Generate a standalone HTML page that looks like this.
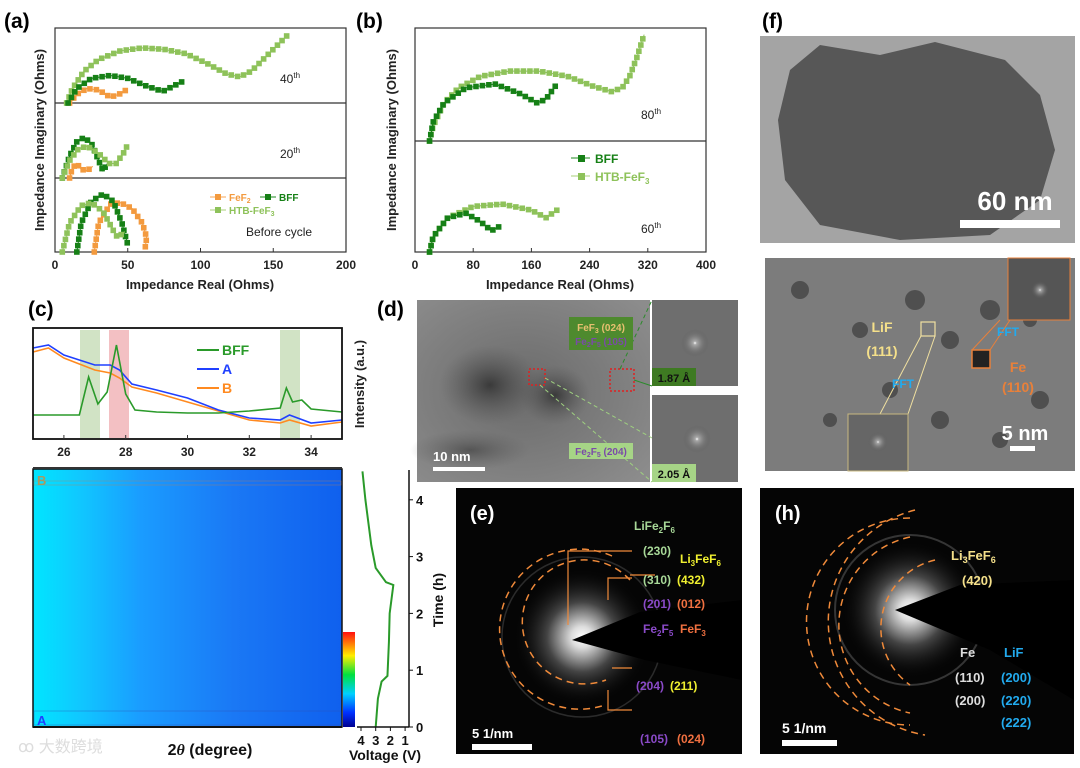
<!DOCTYPE html>
<html><head><meta charset="utf-8">
<style>
html,body{margin:0;padding:0;background:#fff;}
body{width:1080px;height:768px;overflow:hidden;position:relative;font-family:"Liberation Sans",Arial,sans-serif;}
svg{position:absolute;left:0;top:0;}
text{font-family:"Liberation Sans",Arial,sans-serif;}
</style></head>
<body>
<svg id="fig" width="1080" height="768" viewBox="0 0 1080 768" xmlns="http://www.w3.org/2000/svg">
<defs>
  <linearGradient id="heat" x1="0" x2="1" y1="0" y2="0">
    <stop offset="0" stop-color="#00e6ff"/><stop offset="0.15" stop-color="#10c8ff"/>
    <stop offset="0.35" stop-color="#1a9cff"/><stop offset="0.65" stop-color="#1a78f5"/>
    <stop offset="1" stop-color="#0f60ee"/>
  </linearGradient>
  <linearGradient id="cbar" x1="0" x2="0" y1="1" y2="0">
    <stop offset="0" stop-color="#000090"/><stop offset="0.15" stop-color="#0030ff"/>
    <stop offset="0.35" stop-color="#00d0ff"/><stop offset="0.55" stop-color="#00e040"/>
    <stop offset="0.75" stop-color="#ffee00"/><stop offset="1" stop-color="#ff1010"/>
  </linearGradient>
  <radialGradient id="tem" cx="0.45" cy="0.5" r="0.7">
    <stop offset="0" stop-color="#6a6a6a"/><stop offset="1" stop-color="#8c8c8c"/>
  </radialGradient>
  <radialGradient id="blob" cx="0.5" cy="0.5" r="0.5">
    <stop offset="0" stop-color="#3a3a3a"/><stop offset="1" stop-color="#5a5a5a" stop-opacity="0"/>
  </radialGradient>
  <radialGradient id="glow" cx="0.5" cy="0.5" r="0.5">
    <stop offset="0" stop-color="#fff"/><stop offset="0.15" stop-color="#ddd"/>
    <stop offset="0.5" stop-color="#444"/><stop offset="1" stop-color="#000" stop-opacity="0"/>
  </radialGradient>
  <radialGradient id="fftg" cx="0.5" cy="0.5" r="0.5">
    <stop offset="0" stop-color="#fff"/><stop offset="0.12" stop-color="#aaa"/><stop offset="1" stop-color="#555" stop-opacity="0"/>
  </radialGradient>
</defs>

<g font-weight="bold" font-size="21" fill="#000">
<text x="4" y="28">(a)</text><text x="356" y="28">(b)</text><text x="762" y="28">(f)</text>
<text x="28" y="316">(c)</text><text x="377" y="316">(d)</text><text x="765" y="290">(g)</text>
</g>

<g>
<rect x="55" y="28" width="291" height="224" fill="none" stroke="#333" stroke-width="1.2"/>
<line x1="55" y1="103" x2="346" y2="103" stroke="#333" stroke-width="1.2"/>
<line x1="55" y1="178" x2="346" y2="178" stroke="#333" stroke-width="1.2"/>
<g id="a-ticks"></g>
<text x="200" y="289" font-size="13" font-weight="bold" text-anchor="middle" fill="#222">Impedance Real (Ohms)</text>
<text transform="translate(44,140) rotate(-90)" font-size="13" font-weight="bold" text-anchor="middle" fill="#222">Impedance Imaginary (Ohms)</text>
<text x="280" y="83" font-size="12" fill="#222">40<tspan font-size="8" dy="-5">th</tspan></text>
<text x="280" y="158" font-size="12" fill="#222">20<tspan font-size="8" dy="-5">th</tspan></text>
<text x="246" y="236" font-size="12" fill="#222">Before cycle</text>
<g font-size="10" font-weight="bold">
<line x1="210" y1="197" x2="226" y2="197" stroke="#f7a555"/><rect x="215" y="194" width="6" height="6" fill="#f39a3e"/><text x="229" y="201" fill="#f39a3e">FeF<tspan font-size="7" dy="2">2</tspan></text>
<line x1="260" y1="197" x2="276" y2="197" stroke="#1f8a1f"/><rect x="265" y="194" width="6" height="6" fill="#168016"/><text x="279" y="201" fill="#168016">BFF</text>
<line x1="210" y1="210" x2="226" y2="210" stroke="#a8cf7a"/><rect x="215" y="207" width="6" height="6" fill="#8ec25a"/><text x="229" y="214" fill="#8ec25a">HTB-FeF<tspan font-size="7" dy="2">3</tspan></text>
</g>
</g>

<g>
<rect x="415" y="28" width="291" height="224" fill="none" stroke="#333" stroke-width="1.2"/>
<line x1="415" y1="141" x2="706" y2="141" stroke="#333" stroke-width="1.2"/>
<g id="b-ticks"></g>
<text x="560" y="289" font-size="13" font-weight="bold" text-anchor="middle" fill="#222">Impedance Real (Ohms)</text>
<text transform="translate(396,140) rotate(-90)" font-size="13" font-weight="bold" text-anchor="middle" fill="#222">Impedance Imaginary (Ohms)</text>
<text x="641" y="119" font-size="12" fill="#222">80<tspan font-size="8" dy="-5">th</tspan></text>
<text x="641" y="233" font-size="12" fill="#222">60<tspan font-size="8" dy="-5">th</tspan></text>
<g font-size="12" font-weight="bold">
<line x1="571" y1="158" x2="590" y2="158" stroke="#1f8a1f"/><rect x="578" y="155" width="7" height="7" fill="#168016"/><text x="595" y="163" fill="#168016">BFF</text>
<line x1="571" y1="176" x2="590" y2="176" stroke="#a8cf7a"/><rect x="578" y="173" width="7" height="7" fill="#8ec25a"/><text x="595" y="181" fill="#8ec25a">HTB-FeF<tspan font-size="8" dy="3">3</tspan></text>
</g>
</g>
<g id="nyq"></g>

<g>
<rect x="80" y="330" width="20" height="108" fill="#c5dcb6" opacity="0.8"/>
<rect x="109" y="330" width="20" height="108" fill="#f2b9bd" opacity="0.9"/>
<rect x="280" y="330" width="20" height="108" fill="#c5dcb6" opacity="0.8"/>
<g id="xrd"></g>
<rect x="33" y="328" width="309" height="111" fill="none" stroke="#111" stroke-width="1.8"/>
<g id="c-ticks"></g>
<g font-size="14" font-weight="bold">
<line x1="197" y1="350" x2="219" y2="350" stroke="#2a9a2a" stroke-width="2"/><text x="222" y="355" fill="#2a9a2a">BFF</text>
<line x1="197" y1="369" x2="219" y2="369" stroke="#2040ff" stroke-width="2"/><text x="222" y="374" fill="#2040ff">A</text>
<line x1="197" y1="388" x2="219" y2="388" stroke="#ff8a20" stroke-width="2"/><text x="222" y="393" fill="#ff8a20">B</text>
</g>
<text transform="translate(364,384) rotate(-90)" font-size="13" font-weight="bold" text-anchor="middle" fill="#222">Intensity (a.u.)</text>
<rect x="33" y="469" width="309" height="258" fill="url(#heat)"/>
<rect x="33" y="469" width="309" height="258" fill="none" stroke="#111" stroke-width="1.5"/>
<line x1="33" y1="727" x2="342" y2="727" stroke="#111" stroke-width="2"/>
<line x1="33" y1="468" x2="342" y2="468" stroke="#333" stroke-width="2"/>
<rect x="34" y="481" width="307" height="4" fill="none" stroke="#c08050" stroke-width="0.5" opacity="0.7"/>
<rect x="34" y="711" width="307" height="14" fill="none" stroke="#3050b0" stroke-width="0.6" opacity="0.6"/>
<text x="37" y="485" font-size="13" font-weight="bold" fill="#d08a3a" opacity="0.8">B</text>
<text x="37" y="725" font-size="13" font-weight="bold" fill="#2040ff">A</text>
<rect x="343" y="632" width="12" height="95" fill="url(#cbar)"/>
<text x="210" y="755" font-size="16" font-weight="bold" text-anchor="middle" fill="#111">2<tspan font-style="italic" font-family="Liberation Serif">θ</tspan> (degree)</text>
<text x="18" y="752" font-size="16" fill="#ddd" font-family="'Liberation Sans','Noto Sans CJK SC',sans-serif">ꝏ 大数跨境</text>
<g id="volt"></g>
<text transform="translate(443,600) rotate(-90)" font-size="14" font-weight="bold" text-anchor="middle" fill="#111">Time (h)</text>
<text x="385" y="760" font-size="14" font-weight="bold" text-anchor="middle" fill="#111">Voltage (V)</text>
</g>

<g>
<rect x="417" y="300" width="233" height="182" fill="url(#tem)"/>
<ellipse cx="490" cy="385" rx="50" ry="40" fill="url(#blob)"/>
<ellipse cx="555" cy="395" rx="35" ry="30" fill="url(#blob)"/>
<ellipse cx="470" cy="450" rx="60" ry="20" fill="url(#blob)" opacity="0.6"/>
<rect x="529" y="369" width="16" height="16" fill="none" stroke="#e02020" stroke-dasharray="2,2" stroke-width="1.5"/>
<rect x="610" y="369" width="24" height="22" fill="none" stroke="#e02020" stroke-dasharray="2,2" stroke-width="1.5"/>
<line x1="545" y1="378" x2="652" y2="438" stroke="#9fd080" stroke-dasharray="4,3"/>
<line x1="540" y1="385" x2="652" y2="482" stroke="#9fd080" stroke-dasharray="4,3"/>
<line x1="620" y1="369" x2="652" y2="300" stroke="#2a8a2a" stroke-dasharray="4,3"/>
<line x1="634" y1="380" x2="652" y2="386" stroke="#2a8a2a"/>
<rect x="569" y="317" width="64" height="33" fill="#4e8a2e"/>
<text x="601" y="331" font-size="10" font-weight="bold" fill="#e8c070" text-anchor="middle">FeF<tspan font-size="7" dy="2">3</tspan><tspan dy="-2"> (024)</tspan></text>
<text x="601" y="345" font-size="10" font-weight="bold" fill="#7a4aa8" text-anchor="middle">Fe<tspan font-size="7" dy="2">2</tspan><tspan dy="-2">F</tspan><tspan font-size="7" dy="2">5</tspan><tspan dy="-2"> (105)</tspan></text>
<rect x="569" y="443" width="64" height="16" fill="#a6d486"/>
<text x="601" y="455" font-size="10" font-weight="bold" fill="#7a4aa8" text-anchor="middle">Fe<tspan font-size="7" dy="2">2</tspan><tspan dy="-2">F</tspan><tspan font-size="7" dy="2">5</tspan><tspan dy="-2"> (204)</tspan></text>
<rect x="433" y="467" width="52" height="4" fill="#fff"/>
<text x="433" y="461" font-size="13" font-weight="bold" fill="#fff">10 nm</text>
<rect x="652" y="300" width="86" height="86" fill="#6e6e6e"/>
<circle cx="695" cy="343" r="14" fill="url(#fftg)"/>
<rect x="652" y="368" width="44" height="18" fill="#3e7a22"/><text x="674" y="382" font-size="11" font-weight="bold" fill="#111" text-anchor="middle">1.87 Å</text>
<rect x="652" y="395" width="86" height="87" fill="#6e6e6e"/>
<circle cx="697" cy="439" r="14" fill="url(#fftg)"/>
<rect x="652" y="464" width="44" height="18" fill="#a6d486"/><text x="674" y="478" font-size="11" font-weight="bold" fill="#111" text-anchor="middle">2.05 Å</text>
</g>

<g>
<rect x="760" y="36" width="315" height="207" fill="#a4a4a4"/>
<path d="M790,70 L820,45 L880,55 L935,42 L1005,60 L1040,95 L1055,150 L1040,200 L990,235 L900,240 L820,225 L785,180 L778,120 Z" fill="#575757"/>
<text x="1015" y="210" font-size="26" font-weight="bold" fill="#fff" text-anchor="middle">60 nm</text>
<rect x="960" y="220" width="100" height="8" fill="#fff"/>
</g>

<g>
<rect x="765" y="258" width="310" height="213" fill="#7c7c7c"/>
<g fill="#3c3c3c" opacity="0.7">
<circle cx="800" cy="290" r="9"/><circle cx="860" cy="330" r="8"/><circle cx="915" cy="300" r="10"/><circle cx="950" cy="340" r="9"/><circle cx="990" cy="310" r="10"/><circle cx="890" cy="390" r="8"/><circle cx="940" cy="420" r="9"/><circle cx="1000" cy="440" r="8"/><circle cx="830" cy="420" r="7"/><circle cx="1040" cy="400" r="9"/><circle cx="1030" cy="320" r="7"/>
</g>
<rect x="921" y="322" width="14" height="14" fill="none" stroke="#f0e0a0" stroke-width="1.2"/>
<line x1="921" y1="336" x2="880" y2="414" stroke="#f0e0a0"/><line x1="935" y1="336" x2="908" y2="414" stroke="#f0e0a0"/>
<rect x="848" y="414" width="60" height="57" fill="#666" stroke="#c8b880"/>
<circle cx="878" cy="442" r="10" fill="url(#fftg)"/>
<rect x="972" y="350" width="18" height="18" fill="#222" stroke="#e8803a" stroke-width="1.5"/>
<line x1="990" y1="350" x2="1010" y2="320" stroke="#e8803a"/><line x1="972" y1="350" x2="1000" y2="320" stroke="#e8803a"/>
<rect x="1008" y="258" width="62" height="62" fill="#555" stroke="#e8803a"/>
<circle cx="1040" cy="290" r="9" fill="url(#fftg)"/>
<text x="882" y="332" font-size="14" font-weight="bold" fill="#f5e08a" text-anchor="middle">LiF</text>
<text x="882" y="356" font-size="14" font-weight="bold" fill="#f5e08a" text-anchor="middle">(111)</text>
<text x="903" y="388" font-size="12" font-weight="bold" fill="#22aaee" text-anchor="middle">FFT</text>
<text x="1008" y="336" font-size="12" font-weight="bold" fill="#22aaee" text-anchor="middle">FFT</text>
<text x="1018" y="372" font-size="14" font-weight="bold" fill="#e8803a" text-anchor="middle">Fe</text>
<text x="1018" y="392" font-size="14" font-weight="bold" fill="#e8803a" text-anchor="middle">(110)</text>
<text x="1025" y="440" font-size="20" font-weight="bold" fill="#fff" text-anchor="middle">5 nm</text>
<rect x="1010" y="446" width="25" height="5" fill="#fff"/>
</g>

<g>
<rect x="456" y="488" width="286" height="266" fill="#050505"/>
<circle cx="582" cy="637" r="70" fill="url(#glow)"/>
<circle cx="582" cy="637" r="80" fill="none" stroke="#444" stroke-width="1.5" opacity="0.6"/>
<path d="M572,640 L640,612 L742,600 L742,680 L645,660 Z" fill="#000"/>
<text x="470" y="520" font-size="20" font-weight="bold" fill="#fff">(e)</text>
<g fill="none" stroke="#f08a3a" stroke-width="1.5" stroke-dasharray="7,5">
<path d="M630,580 A62,62 0 1,0 606,680"/>
<path d="M612,556 A80,80 0 1,0 605,705"/>
</g>
<g stroke="#f08a3a" stroke-width="1.2" fill="none">
<path d="M632,551 L568,551 L568,625"/><path d="M630,575 L655,575"/>
<path d="M632,578 L608,578 L608,600"/><path d="M612,668 L632,668"/>
<path d="M632,710 L608,710 L608,690"/>
</g>
<g font-size="12" font-weight="bold">
<text x="634" y="530" fill="#a8d898">LiFe<tspan font-size="8" dy="3">2</tspan><tspan dy="-3">F</tspan><tspan font-size="8" dy="3">6</tspan></text>
<text x="643" y="555" fill="#a8d898">(230)</text>
<text x="680" y="563" fill="#f0f030">Li<tspan font-size="8" dy="3">3</tspan><tspan dy="-3">FeF</tspan><tspan font-size="8" dy="3">6</tspan></text>
<text x="643" y="584" fill="#a8d898">(310)</text><text x="677" y="584" fill="#f0f030">(432)</text>
<text x="643" y="608" fill="#8a4ac8">(201)</text><text x="677" y="608" fill="#f07040">(012)</text>
<text x="643" y="633" fill="#8a4ac8">Fe<tspan font-size="8" dy="3">2</tspan><tspan dy="-3">F</tspan><tspan font-size="8" dy="3">5</tspan></text><text x="680" y="633" fill="#f07040">FeF<tspan font-size="8" dy="3">3</tspan></text>
<text x="636" y="690" fill="#8a4ac8">(204)</text><text x="670" y="690" fill="#f0f030">(211)</text>
<text x="640" y="743" fill="#8a4ac8">(105)</text><text x="677" y="743" fill="#f07040">(024)</text>
<text x="472" y="738" fill="#fff" font-size="13">5 1/nm</text>
</g>
<rect x="472" y="744" width="60" height="6" fill="#fff"/>
</g>

<g>
<rect x="760" y="488" width="314" height="266" fill="#050505"/>
<circle cx="910" cy="610" r="70" fill="url(#glow)"/>
<circle cx="910" cy="610" r="75" fill="none" stroke="#555" stroke-width="2" opacity="0.6"/>
<path d="M895,610 L960,585 L1074,580 L1074,700 L990,650 Z" fill="#000"/>
<text x="775" y="520" font-size="20" font-weight="bold" fill="#fff">(h)</text>
<g fill="none" stroke="#f08a3a" stroke-width="1.5" stroke-dasharray="7,5">
<path d="M935,560 A70,70 0 0,0 910,685"/>
<path d="M910,537 A90,90 0 0,0 910,713"/>
<path d="M910,518 A100,100 0 0,0 910,725"/>
<path d="M915,510 A115,115 0 0,0 925,735"/>
</g>
<g font-size="13" font-weight="bold">
<text x="951" y="560" fill="#f5e08a">Li<tspan font-size="9" dy="3">3</tspan><tspan dy="-3">FeF</tspan><tspan font-size="9" dy="3">6</tspan></text>
<text x="962" y="585" fill="#f5e08a">(420)</text>
<text x="960" y="657" fill="#ddd">Fe</text><text x="1004" y="657" fill="#22aaee">LiF</text>
<text x="955" y="682" fill="#ddd">(110)</text><text x="1001" y="682" fill="#22aaee">(200)</text>
<text x="955" y="705" fill="#ddd">(200)</text><text x="1001" y="705" fill="#22aaee">(220)</text>
<text x="1001" y="727" fill="#22aaee">(222)</text>
<text x="782" y="733" fill="#fff" font-size="14">5 1/nm</text>
</g>
<rect x="782" y="740" width="55" height="6" fill="#fff"/>
</g>
</svg>
<script>
const aTicks=[0,50,100,150,200];
const bTicks=[0,80,160,240,320,400];
const xrdTicks=[26,28,30,32,34];
const a40HtbRe=[8,12,20,30,45,60,75,90,105,118,127,135,145,155,160];
const a40HtbIm=[0,10,22,30,36,38,37,34,27,20,18,22,32,42,47];
const a40BffRe=[9,15,25,38,50,62,74,80,88];
const a40BffIm=[0,10,17,19,17,12,8,11,15];
const a40FefRe=[10,15,22,30,38,44,49];
const a40FefIm=[0,6,10,9,4,6,9];
const a20BffRe=[5,10,15,20,25,30,33,36];
const a20BffIm=[0,15,25,28,24,12,5,10];
const a20HtbRe=[5,10,16,22,30,37,42,47,50];
const a20HtbIm=[0,12,20,22,17,10,10,17,23];
const a20FefRe=[10,12,15,18,22,26];
const a20FefIm=[0,7,10,6,5,8];
const a0BffRe=[15,18,25,33,40,46,50];
const a0BffIm=[0,20,35,40,35,20,5];
const a0HtbRe=[5,10,18,25,33,40,43,48];
const a0HtbIm=[0,20,32,34,28,15,10,14];
const a0FefRe=[27,30,38,45,53,60,63,62];
const a0FefIm=[0,20,33,34,30,20,10,3];
const b80HtbRe=[20,25,40,60,90,130,170,210,245,270,285,295,305,315];
const b80HtbIm=[0,20,50,70,85,92,92,85,72,65,70,85,110,140];
const b80BffRe=[20,25,40,70,110,145,168,180,195];
const b80BffIm=[0,25,50,70,75,62,50,55,75];
const b60HtbRe=[20,25,45,80,120,160,180,195];
const b60HtbIm=[0,20,45,60,63,55,45,55];
const b60BffRe=[20,25,45,70,90,105,115];
const b60BffIm=[0,20,45,51,40,28,33];
const bffTheta=[25,26,26.5,26.8,27.1,27.4,27.7,28.0,28.3,29,30,31,32,33,33.2,33.4,33.7,34,35];
const bffInt=[25,25,25,63,36,48,95,46,30,28,27,27,29,32,52,38,40,31,28];
const aTheta=[25,25.5,26,27,27.5,27.8,28.2,29,30,31,32,33,33.3,34,35];
const aInt=[92,95,85,75,75,70,56,50,42,30,22,20,25,17,20];
const bTheta=[25,25.5,26,27,27.5,27.8,28.2,29,30,31,32,33,33.3,34,35];
const bInt=[88,92,82,70,67,62,53,47,38,29,20,17,20,14,18];
const timeH=[0,0.5,0.8,0.9,1.5,2.0,2.5,2.55,2.8,3.2,3.6,4.0,4.5];
const voltV=[3.0,2.85,2.6,2.2,2.1,2.05,1.8,2.3,3.0,3.3,3.5,3.7,3.9];
const timeTicks=[0,1,2,3,4];
const voltTicks=[4,3,2,1];

const NS="http://www.w3.org/2000/svg";
function mk(tag,attrs,parent){const e=document.createElementNS(NS,tag);for(const k in attrs)e.setAttribute(k,attrs[k]);parent.appendChild(e);return e;}
const C={htb:"#8ec25a",bff:"#168016",fef:"#f39a3e"};

const axA=v=>55+v*291/200, axB=v=>415+v*291/400;
function series(g,xs,ys,xf,yf,col,name){
  const P=xs.map((x,i)=>[xf(x),yf(ys[i])]);
  const pl=mk("polyline",{points:P.map(p=>p.join(",")).join(" "),fill:"none",stroke:col,"stroke-width":1},g);
  
  
  const step=6.5;
  let carry=0;
  for(let i=0;i<P.length-1;i++){
    const dx=P[i+1][0]-P[i][0], dy=P[i+1][1]-P[i][1], L=Math.hypot(dx,dy);
    let s=carry;
    while(s<=L){const x=P[i][0]+dx*s/L,y=P[i][1]+dy*s/L;
      const r=mk("rect",{x:x-2.8,y:y-2.8,width:5.6,height:5.6,fill:col},g);
      
      
      s+=step;}
    carry=s-L;
  }
}
const nyq=document.getElementById("nyq");
const yA=base=>v=>base-v*1.45;
series(nyq,a40FefRe,a40FefIm,axA,yA(103),C.fef,"a40-fef2-series");
series(nyq,a40HtbRe,a40HtbIm,axA,yA(103),C.htb,"a40-htb-series");
series(nyq,a40BffRe,a40BffIm,axA,yA(103),C.bff,"a40-bff-series");
series(nyq,a20FefRe,a20FefIm,axA,yA(178),C.fef,"a20-fef2-series");
series(nyq,a20BffRe,a20BffIm,axA,yA(178),C.bff,"a20-bff-series");
series(nyq,a20HtbRe,a20HtbIm,axA,yA(178),C.htb,"a20-htb-series");
series(nyq,a0FefRe,a0FefIm,axA,yA(252),C.fef,"a0-fef2-series");
series(nyq,a0BffRe,a0BffIm,axA,yA(252),C.bff,"a0-bff-series");
series(nyq,a0HtbRe,a0HtbIm,axA,yA(252),C.htb,"a0-htb-series");
const yB=base=>v=>base-v*0.76;
series(nyq,b80HtbRe,b80HtbIm,axB,yB(141),C.htb,"b80-htb-series");
series(nyq,b80BffRe,b80BffIm,axB,yB(141),C.bff,"b80-bff-series");
series(nyq,b60HtbRe,b60HtbIm,axB,yB(252),C.htb,"b60-htb-series");
series(nyq,b60BffRe,b60BffIm,axB,yB(252),C.bff,"b60-bff-series");

function ticks(gid,vals,xf,y,name){
  const g=document.getElementById(gid);
  vals.forEach(v=>{
    mk("line",{x1:xf(v),y1:y,x2:xf(v),y2:y-4,stroke:"#333"},g);
    const t=mk("text",{x:xf(v),y:y+17,"font-size":12,"font-weight":"bold","text-anchor":"middle",fill:"#222"},g);
    t.textContent=v;
    
    
  });
}
ticks("a-ticks",aTicks,axA,252,"a-x-tick-label");
ticks("b-ticks",bTicks,axB,252,"b-x-tick-label");

const axC=t=>33+(t-25)*309/10, ayC=v=>440-v;
const xg=document.getElementById("xrd");
[[bTheta,bInt,"#ff8a20","xrd-b-line"],[aTheta,aInt,"#2040ff","xrd-a-line"],[bffTheta,bffInt,"#2a9a2a","xrd-bff-line"]].forEach(s=>{
  const p=mk("polyline",{points:s[0].map((t,i)=>axC(t)+","+ayC(s[1][i])).join(" "),fill:"none",stroke:s[2],"stroke-width":1.6},xg);
  
  
});
ticks("c-ticks",xrdTicks,axC,439,"c-x-tick-label");
const cg=document.getElementById("c-ticks");
xrdTicks.forEach(v=>mk("line",{x1:axC(v),y1:469,x2:axC(v),y2:473,stroke:"#333"},cg));

const vg=document.getElementById("volt");
const axV=v=>361+(4-v)*14.7, ayT=t=>727-t*56.8;
const vp=mk("polyline",{points:timeH.map((t,i)=>axV(voltV[i])+","+ayT(t)).join(" "),fill:"none",stroke:"#2a9a2a","stroke-width":2},vg);


mk("line",{x1:409,y1:727,x2:409,y2:470,stroke:"#111","stroke-width":1.5},vg);
mk("line",{x1:357,y1:727,x2:409,y2:727,stroke:"#111","stroke-width":1.5},vg);
timeTicks.forEach(t=>{mk("line",{x1:409,y1:ayT(t),x2:413,y2:ayT(t),stroke:"#111"},vg);
  const tx=mk("text",{x:416,y:ayT(t)+5,"font-size":13,"font-weight":"bold",fill:"#111"},vg);tx.textContent=t;
  
  });
voltTicks.forEach(v=>{mk("line",{x1:axV(v),y1:727,x2:axV(v),y2:731,stroke:"#111"},vg);
  const tx=mk("text",{x:axV(v),y:745,"font-size":13,"font-weight":"bold","text-anchor":"middle",fill:"#111"},vg);tx.textContent=v;
  
  });
</script>
</body></html>
